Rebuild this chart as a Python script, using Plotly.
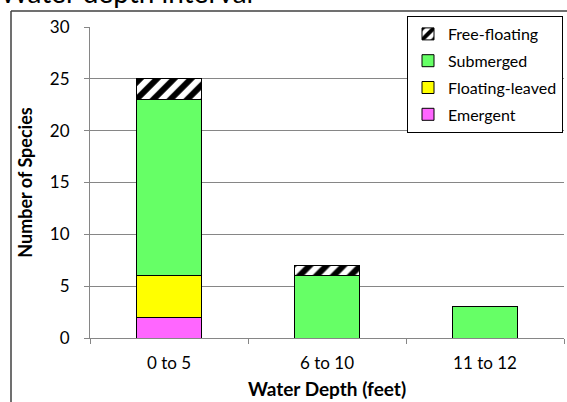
import plotly.graph_objects as go

categories = ["0 to 5", "6 to 10", "11 to 12"]
emergent = [2, 0, 0]
floating_leaved = [4, 0, 0]
submerged = [17, 6, 3]
free_floating = [2, 1, 0]

FONT = "Lato"
W, H = 567, 402
ML, MR, MT, MB = 90, 3, 27, 64
PW = W - ML - MR
PH = H - MT - MB

def px2x(p):
    return (p - ML) / PW

def px2y(p):
    return (H - MB - p) / PH

fig = go.Figure()
series = [
    ("Emergent", emergent, dict(color="#FF66FF"), 4),
    ("Floating-leaved", floating_leaved, dict(color="#FFFF00"), 3),
    ("Submerged", submerged, dict(color="#66FF66"), 2),
    ("Free-floating", free_floating,
     dict(color="white", pattern=dict(shape="/", fgcolor="black", bgcolor="white",
                                      size=12, solidity=0.5, fillmode="replace")), 1),
]
for i, (name, vals, mk, rank) in enumerate(series):
    mk = dict(mk)
    mk["line"] = dict(color="black", width=1)
    fig.add_trace(go.Bar(
        x=categories, y=[v if v else None for v in vals], name=name,
        marker=mk, width=0.41, legendgroup=str(i), legendrank=rank,
    ))

fig.update_layout(
    barmode="stack",
    width=W, height=H,
    margin=dict(l=ML, r=MR, t=MT, b=MB, autoexpand=False),
    paper_bgcolor="white", plot_bgcolor="white",
    font=dict(family=FONT, size=18, color="black"),
    showlegend=True,
    legend=dict(
        x=px2x(563), y=px2y(16), xanchor="right", yanchor="top",
        bgcolor="white", bordercolor="black", borderwidth=1,
        traceorder="grouped", tracegroupgap=3,
        font=dict(family=FONT, size=16, color="black"),
        itemwidth=30,
    ),
    xaxis=dict(
        showline=True, linecolor="#868686", linewidth=1,
        ticks="outside", tickson="boundaries", ticklen=5, tickcolor="#868686",
        tickfont=dict(size=17), range=[-0.5, 2.5], automargin=False,
        ticklabelstandoff=10,
        title=dict(text="<b>Water Depth (feet)</b>", font=dict(size=19), standoff=10),
    ),
    yaxis=dict(
        range=[0, 30], dtick=5,
        showline=True, linecolor="#868686", linewidth=1,
        showgrid=True, gridcolor="#868686", gridwidth=1,
        ticks="outside", ticklen=5, tickcolor="#868686",
        tickfont=dict(size=17), ticklabelstandoff=11, automargin=False,
        title=dict(text="<b>Number of Species</b>", font=dict(size=18), standoff=12),
        zeroline=False,
    ),
    shapes=[
        dict(type="line", xref="paper", yref="paper",
             x0=px2x(11), x1=px2x(11), y0=px2y(11), y1=px2y(410),
             line=dict(color="#404040", width=1.5)),
        dict(type="line", xref="paper", yref="paper",
             x0=px2x(11), x1=px2x(575), y0=px2y(11), y1=px2y(11),
             line=dict(color="#404040", width=1.5)),
    ],
    annotations=[
        dict(text="Water depth interval", xref="paper", yref="paper",
             x=px2x(-2), y=px2y(11), xanchor="left", yanchor="bottom",
             showarrow=False, font=dict(family=FONT, size=28, color="black")),
    ],
)

fig.write_html("out.html", config={"displayModeBar": False},
               post_script="document.body.style.margin='0px';")
